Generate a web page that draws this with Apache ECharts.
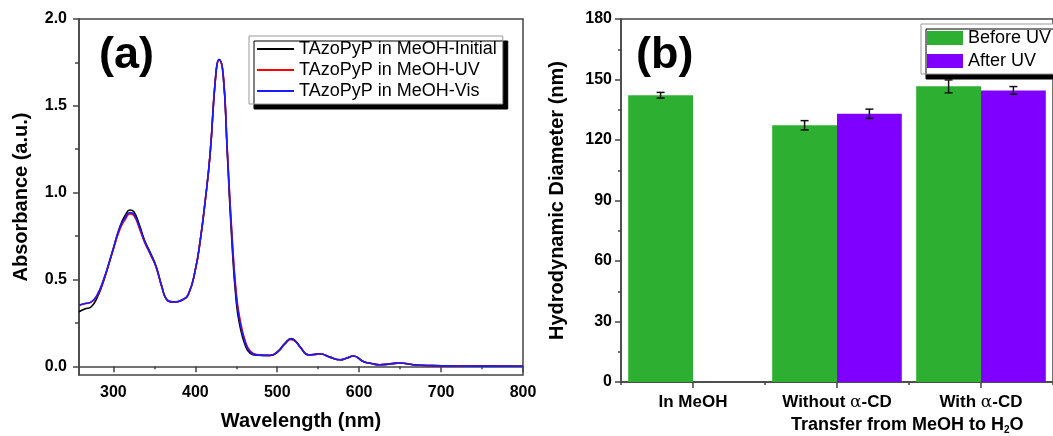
<!DOCTYPE html>
<html>
<head>
<meta charset="utf-8">
<script src="https://cdn.jsdelivr.net/npm/echarts@6/dist/echarts.min.js"></script>
<style>
  html, body { margin: 0; padding: 0; background: #fff; }
  #chart { width: 1053px; height: 436px; }
</style>
</head>
<body>
<div id="chart"></div>
<script>
// (a) UV-vis spectra
const wavelength = [258, 265, 273, 280, 288, 298, 308, 315, 320, 325, 332, 338, 345, 352, 359, 365, 373, 385, 392, 400,
  406, 412, 418, 425, 429, 434, 439, 444, 450, 455, 461, 467, 475, 491, 501, 509, 517, 523, 528, 538,
  545, 552, 564, 577, 585, 593, 605, 615, 625, 638, 650, 666, 690, 720, 760, 800];
const absInitial = [0.314, 0.330, 0.343, 0.394, 0.490, 0.645, 0.805, 0.875, 0.900, 0.890, 0.810, 0.725, 0.655, 0.578, 0.462, 0.386, 0.371, 0.385, 0.420, 0.555,
  0.725, 0.950, 1.220, 1.680, 1.767, 1.675, 1.230, 0.770, 0.370, 0.220, 0.120, 0.075, 0.064, 0.063, 0.087, 0.131, 0.160, 0.143, 0.112, 0.067,
  0.068, 0.072, 0.053, 0.038, 0.048, 0.059, 0.028, 0.016, 0.009, 0.014, 0.019, 0.009, 0.004, 0.002, 0.001, 0.0];
const absUV = [0.350, 0.360, 0.370, 0.405, 0.495, 0.645, 0.790, 0.850, 0.878, 0.868, 0.790, 0.715, 0.645, 0.572, 0.458, 0.384, 0.370, 0.385, 0.420, 0.555,
  0.725, 0.950, 1.220, 1.680, 1.765, 1.685, 1.250, 0.820, 0.420, 0.260, 0.145, 0.088, 0.068, 0.062, 0.084, 0.127, 0.155, 0.139, 0.110, 0.066,
  0.068, 0.072, 0.053, 0.038, 0.048, 0.059, 0.028, 0.016, 0.009, 0.014, 0.019, 0.009, 0.004, 0.002, 0.001, 0.0];
const absVis = [0.352, 0.362, 0.371, 0.410, 0.500, 0.650, 0.800, 0.860, 0.886, 0.875, 0.800, 0.720, 0.650, 0.575, 0.460, 0.385, 0.371, 0.385, 0.420, 0.555,
  0.725, 0.950, 1.220, 1.680, 1.767, 1.680, 1.240, 0.800, 0.400, 0.240, 0.135, 0.082, 0.066, 0.0625, 0.085, 0.128, 0.157, 0.140, 0.110, 0.066,
  0.068, 0.072, 0.053, 0.038, 0.048, 0.059, 0.028, 0.016, 0.009, 0.014, 0.019, 0.009, 0.004, 0.002, 0.001, 0.0];
const absTicks = [0, 0.5, 1.0, 1.5, 2.0];
const absMinorTicks = [0.25, 0.75, 1.25, 1.75];
const wlTicks = [300, 400, 500, 600, 700, 800];
const wlMinorTicks = [350, 450, 550, 650, 750];

// (b) DLS bars
const dlsCategories = ["In MeOH", "Without α-CD", "With α-CD"];
const beforeUV = [142.2, 127.3, 146.6];
const afterUV = [null, 133.0, 144.6];
const beforeErr = [1.4, 2.3, 3.2];
const afterErr = [null, 2.3, 1.9];

const font = "'Liberation Sans', Arial, sans-serif";
const axisColor = "#444";

let chart = echarts.init(document.getElementById("chart"));

const zip = (xs, ys) => xs.map((x, i) => [x, ys[i]]);

const lineSeries = (name, data, color) => ({
  name,
  type: "line",
  xAxisIndex: 0,
  yAxisIndex: 0,
  data: zip(wavelength, data),
  symbol: "none",
  smooth: 0.5,
  lineStyle: { color, width: 1.6 },
  itemStyle: { color },
});

// error bars sit on the left (-1) or right (+1) bar of each category
const errorSeries = (name, values, errs, side) => ({
  name,
  type: "custom",
  xAxisIndex: 2,
  yAxisIndex: 2,
  z: 10,
  silent: true,
  encode: { x: 0, y: [1, 2] },
  data: values
    .map((v, i) => (v == null ? null : [i, v - errs[i], v + errs[i]]))
    .filter((d) => d),
  renderItem(params, api) {
    const band = api.size([1, 0])[0];
    const lo = api.coord([api.value(0), api.value(1)]);
    const hi = api.coord([api.value(0), api.value(2)]);
    const x = lo[0] + side * band * 0.225;
    const cap = 4;
    const st = { stroke: "#111", lineWidth: 1.5 };
    return {
      type: "group",
      children: [
        { type: "line", shape: { x1: x, y1: lo[1], x2: x, y2: hi[1] }, style: st },
        { type: "line", shape: { x1: x - cap, y1: lo[1], x2: x + cap, y2: lo[1] }, style: st },
        { type: "line", shape: { x1: x - cap, y1: hi[1], x2: x + cap, y2: hi[1] }, style: st },
      ],
    };
  },
});

const option = {
  animation: false,
  textStyle: { fontFamily: font },
  grid: [
    { left: 79, top: 19, right: 530, bottom: 56, show: true, borderColor: axisColor, borderWidth: 1.5, backgroundColor: "#fff" },
    { left: 621, top: 19, width: 444, bottom: 54, show: true, borderColor: axisColor, borderWidth: 1.5, backgroundColor: "#fff" },
  ],
  legend: [
    {
      data: ["TAzoPyP in MeOH-Initial", "TAzoPyP in MeOH-UV", "TAzoPyP in MeOH-Vis"],
      orient: "vertical",
      left: 249,
      top: 36,
      padding: [4, 6, 4, 8],
      icon: "rect",
      itemWidth: 37,
      itemHeight: 2,
      itemGap: 3,
      backgroundColor: "#fff",
      borderColor: "#999",
      borderWidth: 1,
      shadowColor: "#000",
      shadowBlur: 0,
      shadowOffsetX: 5,
      shadowOffsetY: 5,
      textStyle: { fontFamily: font, fontSize: 18, color: "#000" },
    },
    {
      data: ["Before UV", "After UV"],
      orient: "vertical",
      left: 921,
      top: 24,
      padding: [5, 8, 4, 6],
      itemWidth: 36,
      itemHeight: 14,
      itemGap: 5,
      icon: "rect",
      backgroundColor: "#fff",
      borderColor: "#999",
      borderWidth: 1,
      shadowColor: "#000",
      shadowBlur: 0,
      shadowOffsetX: 5,
      shadowOffsetY: 5,
      textStyle: { fontFamily: font, fontSize: 18, color: "#000" },
    },
  ],
  xAxis: [
    {
      type: "value",
      gridIndex: 0,
      min: 258,
      max: 800,
      name: "Wavelength (nm)",
      nameLocation: "middle",
      nameGap: 36,
      nameTextStyle: { fontSize: 20, fontWeight: "bold", color: "#000" },
      axisLine: { show: true, lineStyle: { color: axisColor, width: 1.5 } },
      axisTick: { show: true, inside: false, length: 6, customValues: wlTicks, lineStyle: { color: axisColor, width: 1.5 } },
      axisLabel: { customValues: wlTicks, margin: 10, fontSize: 16, fontWeight: "bold", color: "#000" },
      splitLine: { show: false },
    },
    {
      type: "value",
      gridIndex: 0,
      min: 258,
      max: 800,
      position: "bottom",
      axisLine: { show: false },
      axisTick: { show: true, length: 3, customValues: wlMinorTicks, lineStyle: { color: axisColor, width: 1.5 } },
      axisLabel: { show: false },
      splitLine: { show: false },
    },
    {
      type: "category",
      gridIndex: 1,
      data: dlsCategories,
      axisLine: { show: true, lineStyle: { color: axisColor, width: 1.5 } },
      axisTick: { show: true, alignWithLabel: true, length: 6, lineStyle: { color: axisColor, width: 1.5 } },
      axisLabel: {
        interval: 0,
        margin: 12,
        fontSize: 17,
        fontWeight: "bold",
        color: "#000",
        formatter: (v) => v.replace("α", "{g|α}"),
        rich: { g: { fontFamily: "'DejaVu Serif', serif", fontWeight: "normal", fontSize: 17, color: "#000" } },
      },
      splitLine: { show: false },
    },
    {
      type: "category",
      gridIndex: 1,
      position: "bottom",
      data: dlsCategories,
      axisLine: { show: false },
      axisTick: { show: true, alignWithLabel: false, length: 3, lineStyle: { color: axisColor, width: 1.5 } },
      axisLabel: { show: false },
      splitLine: { show: false },
    },
  ],
  yAxis: [
    {
      type: "value",
      gridIndex: 0,
      min: -0.05,
      max: 2.0,
      name: "Absorbance (a.u.)",
      nameLocation: "middle",
      nameGap: 48,
      nameTextStyle: { fontSize: 20, fontWeight: "bold", color: "#000" },
      axisLine: { show: true, lineStyle: { color: axisColor, width: 1.5 } },
      axisTick: { show: true, length: 6, customValues: absTicks, lineStyle: { color: axisColor, width: 1.5 } },
      axisLabel: { customValues: absTicks, margin: 12, fontSize: 16, fontWeight: "bold", color: "#000", formatter: (v) => v.toFixed(1) },
      splitLine: { show: false },
    },
    {
      type: "value",
      gridIndex: 0,
      min: -0.05,
      max: 2.0,
      position: "left",
      axisLine: { show: false },
      axisTick: { show: true, length: 4, customValues: absMinorTicks, lineStyle: { color: axisColor, width: 1.5 } },
      axisLabel: { show: false },
      splitLine: { show: false },
    },
    {
      type: "value",
      gridIndex: 1,
      min: 0,
      max: 180,
      interval: 30,
      name: "Hydrodynamic Diameter (nm)",
      nameLocation: "middle",
      nameGap: 54,
      nameTextStyle: { fontSize: 20, fontWeight: "bold", color: "#000" },
      axisLine: { show: true, lineStyle: { color: axisColor, width: 1.5 } },
      axisTick: { show: true, length: 6, lineStyle: { color: axisColor, width: 1.5 } },
      minorTick: { show: true, splitNumber: 2, length: 3, lineStyle: { color: axisColor, width: 1.5 } },
      axisLabel: { margin: 9, fontSize: 16, fontWeight: "bold", color: "#000" },
      splitLine: { show: false },
    },
  ],
  graphic: [
    {
      type: "text",
      left: 99,
      top: 33,
      z: 100,
      style: { text: "(a)", font: "bold 45px " + font, fill: "#000" },
    },
    {
      type: "text",
      left: 636,
      top: 33,
      z: 100,
      style: { text: "(b)", font: "bold 45px " + font, fill: "#000" },
    },
    {
      type: "text",
      left: 791,
      top: 416,
      z: 100,
      style: {
        text: "Transfer from MeOH to H{s|2}O",
        font: "bold 18px " + font,
        fill: "#000",
        rich: { s: { fontSize: 10, fontWeight: "bold", fontFamily: font, padding: [10, 0, 0, 0], fill: "#000" } },
      },
    },
  ],
  series: [
    lineSeries("TAzoPyP in MeOH-Initial", absInitial, "#000000"),
    lineSeries("TAzoPyP in MeOH-UV", absUV, "#ff0000"),
    lineSeries("TAzoPyP in MeOH-Vis", absVis, "#1a1aff"),
    {
      name: "Before UV",
      type: "bar",
      xAxisIndex: 2,
      yAxisIndex: 2,
      data: beforeUV,
      barWidth: "45%",
      barGap: "0%",
      itemStyle: { color: "#2db032" },
    },
    {
      name: "After UV",
      type: "bar",
      xAxisIndex: 2,
      yAxisIndex: 2,
      data: afterUV,
      barWidth: "45%",
      barGap: "0%",
      itemStyle: { color: "#8000ff" },
    },
    errorSeries("err-before", beforeUV, beforeErr, -1),
    errorSeries("err-after", afterUV, afterErr, 1),
  ],
};

option && chart.setOption(option);
</script>
</body>
</html>
